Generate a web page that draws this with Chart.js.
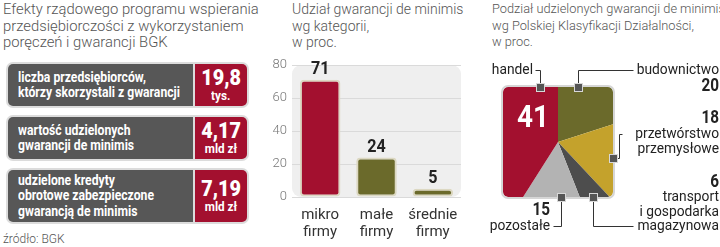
<!DOCTYPE html>
<html>
<head>
<meta charset="utf-8">
<script src="https://cdn.jsdelivr.net/npm/chart.js@4"></script>
<style>
body { margin:0; width:720px; height:247px; background:#fff; position:relative; overflow:hidden;
  font-family:Roboto,"DejaVu Sans",sans-serif; }
.ttl { position:absolute; top:1px; font-size:14px; font-weight:300; line-height:16.5px; color:#555; white-space:nowrap; }
.box { position:absolute; left:6px; width:239px; background:#dcdcdc; padding:2px; border-radius:7px; display:flex; }
.box .t { background:#575757; color:#fff; font-weight:bold; font-size:14.5px; line-height:15.5px; width:175px;
  padding-left:10px; border-radius:5px 0 0 5px; display:flex; align-items:center; white-space:nowrap; overflow:hidden; }
.box .t span { display:inline-block; transform:scaleX(0.84); transform-origin:left center; }
.box .v { background:#a3102f; color:#fff; font-weight:bold; margin-left:2px; width:52px; border-radius:0 5px 5px 0;
  display:flex; flex-direction:column; align-items:center; justify-content:center; }
.box .v b { font-size:22px; line-height:21px; transform:scaleX(0.9); }
.box .v i { font-style:normal; font-size:13px; line-height:15px; transform:scaleX(0.9); }
canvas { position:absolute; top:0; }
</style>
</head>
<body>
<div class="ttl" style="left:3px;font-size:14.8px">Efekty rządowego programu wspierania<br>przedsiębiorczości z wykorzystaniem<br>poręczeń i gwarancji BGK</div>
<div class="box" style="top:62px;height:42px"><div class="t"><span>liczba przedsiębiorców,<br>którzy skorzystali z gwarancji</span></div><div class="v"><b>19,8</b><i>tys.</i></div></div>
<div class="box" style="top:115px;height:42px"><div class="t"><span>wartość udzielonych<br>gwarancji de minimis</span></div><div class="v"><b>4,17</b><i>mld zł</i></div></div>
<div class="box" style="top:168px;height:52px"><div class="t"><span>udzielone kredyty<br>obrotowe zabezpieczone<br>gwarancją de minimis</span></div><div class="v"><b>7,19</b><i>mld zł</i></div></div>
<div class="ttl" style="left:3px;top:231px;font-size:12px">źródło: BGK</div>

<div class="ttl" style="left:292px">Udział gwarancji de minimis<br>wg kategorii,<br>w proc.</div>
<canvas id="bar" width="220" height="247" style="left:250px"></canvas>

<div class="ttl" style="left:492px;font-size:12.8px;line-height:16.5px">Podział udzielonych gwarancji de minimis<br>wg Polskiej Klasyfikacji Działalności,<br>w proc.</div>
<canvas id="pie" width="250" height="247" style="left:470px"></canvas>

<script>
// bar chart data
const barCategories = [['mikro', 'firmy'], ['małe', 'firmy'], ['średnie', 'firmy']];
const barValues = [71, 24, 5];
const barColors = ['#a3102f', '#6b6a2b', '#6b6a2b'];
const yMax = 80;
const yStep = 20;

// pie data (clockwise from top)
const pieCategories = ['budownictwo', 'przetwórstwo przemysłowe', 'transport i gospodarka magazynowa', 'pozostałe', 'handel'];
const pieValues = [20, 18, 6, 15, 41];
const pieColors = ['#6b6a2b', '#c4a22c', '#4d4d4d', '#b3b3b3', '#a3102f'];

const FONT = 'Roboto, "DejaVu Sans", sans-serif';

function roundRect(ctx, x, y, w, h, r) {
  ctx.beginPath();
  ctx.moveTo(x + r, y);
  ctx.arcTo(x + w, y, x + w, y + h, r);
  ctx.arcTo(x + w, y + h, x, y + h, r);
  ctx.arcTo(x, y + h, x, y, r);
  ctx.arcTo(x, y, x + w, y, r);
  ctx.closePath();
}

// narrow bold text, like the condensed face of the original
function narrowText(ctx, s, x, y, sx) {
  ctx.save();
  ctx.translate(x, y);
  ctx.scale(sx, 1);
  ctx.fillText(s, 0, 0);
  ctx.restore();
}

const plotBg = {
  id: 'plotBg',
  beforeDraw(chart) {
    const a = chart.chartArea, ctx = chart.ctx;
    ctx.save();
    roundRect(ctx, a.left, a.top, a.right - a.left, a.bottom - a.top, 9);
    ctx.fillStyle = '#efefef';
    ctx.fill();
    ctx.restore();
  }
};

const barLabels = {
  id: 'barLabels',
  afterDatasetsDraw(chart) {
    const ctx = chart.ctx;
    ctx.save();
    ctx.font = 'bold 19px ' + FONT;
    ctx.fillStyle = '#222';
    ctx.textAlign = 'center';
    ctx.textBaseline = 'bottom';
    chart.getDatasetMeta(0).data.forEach((b, i) => {
      narrowText(ctx, barValues[i], b.x, b.y - 1, 0.85);
    });
    ctx.restore();
  }
};

new Chart(document.getElementById('bar'), {
  type: 'bar',
  data: {
    labels: barCategories,
    datasets: [{
      data: barValues,
      backgroundColor: barColors,
      borderColor: '#dcd8c2',
      borderWidth: 2,
      borderRadius: 4,
      borderSkipped: false,
      barPercentage: 0.72,
      categoryPercentage: 1
    }]
  },
  options: {
    responsive: false,
    animation: false,
    devicePixelRatio: 1,
    layout: { padding: { top: 65, right: 9, left: 0, bottom: 0 } },
    plugins: { legend: { display: false }, tooltip: { enabled: false } },
    scales: {
      x: {
        grid: { display: false },
        border: { display: false },
        ticks: { color: '#333', font: { family: FONT, size: 15, lineHeight: 1.13 }, padding: 2, maxRotation: 0 },
        afterFit(s) { s.height = 50; }
      },
      y: {
        min: 0, max: yMax,
        grid: { color: '#dadada', drawTicks: false },
        border: { display: false },
        ticks: { stepSize: yStep, color: '#777', font: { family: FONT, size: 13, weight: 300 }, padding: 5 },
        afterFit(s) { s.width = 42; }
      }
    }
  },
  plugins: [plotBg, barLabels]
});

// pie: square clipped
const HALF = 55;
const squareClip = {
  id: 'squareClip',
  beforeDatasetsDraw(chart) {
    const arc = chart.getDatasetMeta(0).data[0];
    const ctx = chart.ctx;
    ctx.save();
    roundRect(ctx, arc.x - HALF, arc.y - HALF, HALF * 2, HALF * 2, 5);
    ctx.clip();
  },
  afterDatasetsDraw(chart) {
    const ctx = chart.ctx;
    ctx.restore();
    const arc = chart.getDatasetMeta(0).data[0];
    const cx = arc.x, cy = arc.y;
    const top = cy - HALF, bottom = cy + HALF, right = cx + HALF;
    ctx.save();
    roundRect(ctx, cx - HALF - 1, top - 1, HALF * 2 + 2, HALF * 2 + 2, 6);
    ctx.strokeStyle = '#d6d6d6';
    ctx.lineWidth = 2;
    ctx.stroke();

    // big number in the largest slice
    ctx.fillStyle = '#fff';
    ctx.font = 'bold 31px ' + FONT;
    ctx.textAlign = 'center';
    ctx.textBaseline = 'middle';
    narrowText(ctx, pieValues[4], cx - 25, cy - 23, 0.9);

    // leader lines
    ctx.strokeStyle = '#333';
    ctx.lineWidth = 1;
    const line = pts => {
      ctx.beginPath();
      ctx.moveTo(pts[0][0] + 0.5, pts[0][1] + 0.5);
      pts.slice(1).forEach(p => ctx.lineTo(p[0] + 0.5, p[1] + 0.5));
      ctx.stroke();
    };
    const TX = 249;
    line([[cx - 18, top], [cx - 18, top - 17], [cx - 23, top - 17]]);
    line([[cx + 20, top], [cx + 20, top - 17], [TX - 86, top - 17]]);
    line([[right, cy + 16], [right + 6, cy + 16], [right + 6, cy - 8], [right + 9, cy - 8]]);
    line([[cx + 35, bottom], [cx + 35, bottom + 29], [TX - 86, bottom + 29]]);
    line([[cx + 3, bottom], [cx + 3, bottom + 29], [cx - 5, bottom + 29]]);

    // markers
    const mark = (x, y) => {
      ctx.fillStyle = '#d8d8d8';
      ctx.fillRect(x - 4, y - 4, 9, 9);
      ctx.fillStyle = '#555';
      ctx.fillRect(x - 3, y - 3, 7, 7);
    };
    mark(cx - 18, top);
    mark(cx + 20, top);
    mark(right, cy + 16);
    mark(cx + 35, bottom);
    mark(cx + 3, bottom);

    // labels
    ctx.textBaseline = 'middle';
    ctx.textAlign = 'right';
    ctx.fillStyle = '#222';
    const txt = (s, x, y) => {
      ctx.font = '15px ' + FONT;
      narrowText(ctx, s, x, y, 0.92);
    };
    const num = (s, x, y) => {
      ctx.font = 'bold 18px ' + FONT;
      narrowText(ctx, s, x, y, 0.85);
    };
    txt('handel', cx - 25, top - 17);
    txt('budownictwo', TX, top - 17);
    num(pieValues[0], TX, top - 1);
    num(pieValues[1], TX, cy - 24);
    txt('przetwórstwo', TX, cy - 8);
    txt('przemysłowe', TX, cy + 7);
    num(pieValues[2], TX, bottom - 15);
    txt('transport', TX, bottom);
    txt('i gospodarka', TX, bottom + 15);
    txt('magazynowa', TX, bottom + 29);
    num(pieValues[3], cx - 8, bottom + 13);
    txt('pozostałe', cx - 8, bottom + 29);
    ctx.restore();
  }
};

new Chart(document.getElementById('pie'), {
  type: 'pie',
  data: {
    labels: pieCategories,
    datasets: [{ data: pieValues, backgroundColor: pieColors, borderWidth: 0 }]
  },
  options: {
    responsive: false,
    animation: false,
    devicePixelRatio: 1,
    layout: { padding: { left: 8, top: 62, right: 82, bottom: 25 } },
    plugins: { legend: { display: false }, tooltip: { enabled: false } }
  },
  plugins: [squareClip]
});
</script>
</body>
</html>
